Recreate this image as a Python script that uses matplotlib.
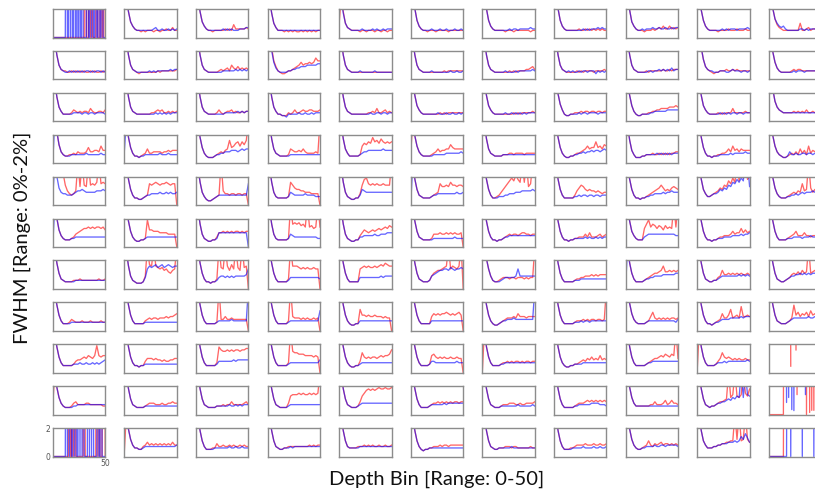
import numpy as np
import matplotlib
matplotlib.use("Agg")
import matplotlib.pyplot as plt

# depth bins sampled every 2 bins (values in tenths of a percent; 30+ = off the top of the 0-2 range)
DEPTH = list(range(0, 51, 2))
FULL_DEPTH = list(range(0, 51))

RED_0 = [None,
 [40,27,18,11,8,6, 5,5,4,5,4, 5,5,5,4,5, 5,4,5,5,6, 5,5,7,5,5],
 [40,27,18,11,8,6, 5,5,4,5,5, 5,5,5,6,5, 6,5,9,6,6, 6,6,6,7,6],
 [40,26,17,10,7,5, 5,5,4,5,4, 5,4,5,4,4, 5,4,5,4,5, 4,5,4,5,5],
 [9,30,18,10,7,6, 5,5,5,5,4, 5,5,4,5,5, 5,4,5,5,4, 5,5,4,5,5],
 [40,28,20,12,8,6, 5,5,4,5,5, 5,4,5,5,5, 5,5,4,5,5, 5,5,5,5,5],
 [40,28,20,12,8,6, 5,5,5,5,5, 4,5,5,5,4, 5,5,5,5,5, 5,5,4,5,5],
 [40,28,20,12,8,6, 5,5,5,5,5, 5,6,5,5,6, 5,6,5,6,5, 6,5,6,5,5],
 [40,28,19,11,8,6, 5,5,5,4,5, 5,5,6,5,6, 7,6,8,6,6, 8,6,7,6,7],
 [40,28,19,12,8,6, 5,5,5,5,4, 5,5,5,5,6, 5,5,5,6,5, 5,5,6,5,5],
 [40,29,20,13,9,7, 6,5,5,5,5, 5,5,5,5,10, 5,5,6,7,5, 6,6,6,6,6]]
BLUE_0 = [None,
 [40,27,18,11,8,6, 5,5,5,5,5, 5,5,5,6,7, 5,5,6,5,5, 6,5,6,5,6],
 [40,27,18,11,8,6, 5,5,5,5,5, 5,5,6,5,6, 5,6,5,5,5, 6,6,6,7,7],
 [40,26,17,10,7,5, 5,5,5,5,5, 5,5,5,5,5, 5,5,5,5,5, 5,5,5,5,5],
 [40,27,17,10,7,6, 5,5,5,5,5, 6,5,5,5,5, 6,5,6,5,5, 6,5,6,6,6],
 [40,28,20,12,8,6, 5,5,5,5,6, 5,5,5,6,5, 5,6,5,5,5, 6,5,5,6,5],
 [40,28,20,12,8,6, 5,5,5,5,5, 5,5,6,5,6, 6,5,6,6,6, 6,6,7,6,6],
 [40,28,20,12,8,6, 5,5,5,5,5, 5,5,5,6,5, 6,5,6,6,6, 7,6,7,6,6],
 [40,28,19,11,8,6, 5,5,6,5,6, 6,6,7,6,6, 7,6,6,7,6, 6,7,6,7,7],
 [40,28,19,12,8,6, 5,5,5,5,5, 5,6,5,6,5, 6,6,6,5,6, 6,6,6,7,6],
 [40,29,20,13,10,8, 7,8,6,5,5, 5,5,5,5,6, 6,5,6,5,6, 6,6,6,6,6]]

RED_1 = [
 [40,27,17,10,7,6, 6,5,5,6,5, 6,5,6,5,6, 5,5,6,5,6, 5,5,6,5,6],
 [40,27,17,10,7,6, 5,4,5,5,5, 5,5,5,5,5, 6,5,6,6,6, 6,6,6,6,7],
 [40,27,17,10,7,6, 5,5,5,5,5, 6,7,6,7,8, 6,10,8,7,9, 7,8,7,8,7],
 [16,30,22,13,9,6, 5,4,4,5,6, 6,7,8,9,10, 12,10,11,11,12, 11,12,15,13,13],
 [40,27,17,10,7,6, 5,5,5,5,5, 5,5,5,5,5, 5,5,5,5,5, 5,5,5,5,5],
 [40,27,17,10,7,6, 5,5,5,5,5, 5,5,5,5,5, 6,5,6,6,6, 6,6,6,6,6],
 [40,27,17,10,7,6, 5,5,5,5,5, 5,5,6,5,6, 5,6,6,6,6, 7,7,8,9,7],
 [40,27,17,10,7,6, 5,5,5,5,5, 6,5,6,5,6, 6,6,6,5,6, 6,6,6,7,6],
 [40,27,17,10,7,6, 5,5,5,5,6, 5,6,6,6,6, 6,6,7,6,6, 7,6,7,7,7],
 [40,30,22,14,9,7, 6,5,4,5,5, 6,6,6,7,6, 6,7,6,7,6, 6,6,6,6,6],
 [40,28,19,12,8,6, 5,5,5,5,5, 6,7,6,7,7, 6,6,6,6,6, 6,6,6,6,6]]
BLUE_1 = [
 [40,27,17,10,7,6, 5,5,6,5,6, 5,6,5,6,5, 6,6,5,6,5, 6,6,5,6,5],
 [40,27,17,10,7,6, 5,5,5,5,5, 5,6,5,6,5, 6,6,6,6,6, 6,7,6,7,7],
 [40,27,17,10,7,6, 5,5,5,5,5, 5,5,6,6,6, 6,6,6,7,6, 7,6,7,6,7],
 [30,29,20,12,8,6, 5,5,5,5,6, 6,7,7,8,8, 9,9,9,10,10, 10,10,10,11,11],
 [40,27,17,10,7,6, 5,5,5,5,6, 5,5,5,5,5, 5,6,5,5,5, 5,5,5,5,5],
 [40,27,17,10,7,6, 5,5,5,5,6, 5,5,5,5,5, 5,5,5,6,5, 5,6,5,5,6],
 [40,27,17,10,7,6, 5,5,5,5,5, 6,5,5,5,5, 6,5,6,6,6, 6,6,6,7,6],
 [40,27,17,10,7,6, 5,6,5,6,5, 5,6,5,6,6, 5,6,6,6,4, 6,5,6,5,6],
 [40,27,17,10,7,6, 5,5,5,5,5, 6,6,5,6,6, 7,6,7,6,7, 6,8,6,7,7],
 [40,30,22,14,9,7, 6,6,5,5,5, 6,6,6,5,5, 6,7,6,6,6, 5,6,6,5,6],
 [40,28,19,12,8,6, 5,5,5,5,5, 5,6,5,6,6, 6,5,6,6,6, 6,6,6,6,6]]

RED_2 = [
 [40,27,17,10,7,5, 5,5,5,6,8, 7,6,7,6,7, 7,6,9,7,6, 6,7,7,6,8],
 [40,27,17,10,7,6, 5,5,5,5,5, 5,5,6,6,7, 8,7,8,6,6, 7,6,7,6,7],
 [40,27,17,10,7,6, 5,5,5,5,6, 8,6,5,6,7, 7,8,6,7,6, 6,7,6,7,7],
 [40,27,17,10,7,5, 5,4,4,4,6, 5,6,8,6,6, 7,8,7,7,8, 8,7,7,7,8],
 [40,27,17,10,7,6, 5,5,5,5,5, 5,5,5,6,6, 7,6,9,6,6, 7,8,6,7,6],
 [40,27,18,11,8,6, 5,5,5,5,5, 5,5,5,6,5, 6,5,6,6,6, 6,6,6,6,6],
 [40,27,18,11,8,6, 5,5,5,5,5, 5,5,5,5,6, 5,6,5,6,6, 6,6,6,7,6],
 [40,28,19,12,8,5, 4,4,5,5,6, 6,6,7,6,7, 7,6,7,7,6, 7,7,6,7,7],
 [40,27,18,11,7,5, 4,4,5,5,5, 6,6,7,7,8, 8,9,9,9,9, 10,10,10,11,10],
 [40,27,18,11,8,6, 5,5,5,5,6, 5,6,5,6,6, 6,9,6,6,6, 6,6,7,6,6],
 [40,30,22,14,10,8, 7,6,6,6,6, 6,7,6,7,6, 7,6,8,6,6, 7,6,6,7,6]]
BLUE_2 = [
 [40,27,17,10,7,5, 5,5,5,5,6, 6,6,6,5,6, 6,5,6,6,5, 6,6,6,6,5],
 [40,27,17,10,7,6, 5,5,5,5,5, 5,5,5,5,6, 5,6,5,6,5, 6,5,6,6,6],
 [40,27,17,10,7,6, 5,5,5,5,5, 5,5,5,6,6, 6,6,6,6,7, 6,7,6,7,7],
 [40,27,17,10,7,5, 5,4,4,3,5, 5,5,5,5,6, 5,5,6,5,5, 6,5,6,6,6],
 [40,27,17,10,7,6, 5,5,5,5,5, 5,5,5,5,6, 5,5,6,6,5, 6,6,5,6,6],
 [40,27,18,11,8,6, 5,5,5,5,5, 5,5,6,5,5, 5,6,5,5,6, 5,5,6,5,6],
 [40,27,18,11,8,6, 5,5,5,5,5, 6,5,5,6,5, 6,5,6,5,6, 5,6,6,6,6],
 [40,28,19,12,8,5, 4,4,5,5,5, 5,6,5,6,6, 5,6,6,6,6, 5,6,6,6,6],
 [40,27,18,11,7,5, 4,4,5,5,5, 5,6,6,7,7, 7,7,7,7,8, 8,8,8,8,8],
 [40,27,18,11,8,6, 5,5,5,5,5, 6,5,6,5,6, 5,6,6,5,6, 6,5,6,6,6],
 [40,30,22,14,10,8, 7,6,6,6,6, 6,6,6,6,6, 6,6,6,6,6, 6,6,6,6,6]]

RED_3 = [
 [30,30,22,13,8,6, 5,5,6,6,7, 6,8,7,7,7, 8,11,8,8,9, 9,8,12,9,9],
 [40,27,18,11,7,5, 5,4,5,6,7, 10,7,7,8,8, 8,8,7,8,8, 9,8,9,9,9],
 [40,27,18,11,7,5, 4,4,4,5,6, 7,8,7,9,10, 16,11,12,14,15, 12,15,13,16,30],
 [40,27,17,10,7,6, 5,5,5,5,6, 10,9,8,8,9, 8,10,8,7,7, 7,7,8,7,30],
 [40,27,17,10,7,5, 5,5,5,5,6, 12,14,13,15,14, 18,15,16,14,17, 15,14,15,14,15],
 [6,30,19,12,8,6, 5,5,5,5,6, 7,8,10,8,9, 9,10,10,13,11, 10,10,10,10,10],
 [40,27,17,10,7,6, 5,5,5,5,6, 6,6,7,7,6, 7,7,7,7,6, 7,7,7,7,7],
 [40,27,18,11,7,5, 4,4,5,5,6, 7,7,8,9,10, 12,10,11,11,15, 11,12,10,13,12],
 [40,26,16,9,6,4, 4,4,5,5,6, 6,6,7,6,6, 7,6,7,6,7, 6,7,7,8,8],
 [40,27,18,11,7,5, 5,4,5,5,6, 6,7,7,8,10, 8,12,9,10,8, 10,9,9,9,9],
 [40,28,19,12,8,6, 5,4,4,5,6, 7,6,8,6,10, 7,9,6,12,7, 9,8,10,7,9]]
BLUE_3 = [
 [0,30,22,13,8,6, 5,5,5,6,6, 6,6,6,6,6, 7,6,6,6,6, 6,6,7,6,6],
 [8,30,18,11,7,5, 5,4,5,5,6, 6,6,6,6,6, 6,7,6,6,6, 7,6,6,6,6],
 [40,27,18,11,7,5, 4,4,4,5,6, 6,7,7,8,8, 8,9,9,9,8, 9,10,9,10,10],
 [40,27,17,10,7,6, 5,5,5,5,5, 6,6,6,6,6, 6,6,6,6,6, 6,6,6,6,6],
 [40,27,17,10,7,5, 5,5,5,5,6, 7,8,8,9,9, 9,9,9,9,9, 10,9,9,9,9],
 [40,28,19,12,8,6, 5,5,5,5,5, 6,6,6,6,6, 6,7,7,7,7, 7,7,7,8,7],
 [40,27,17,10,7,6, 5,5,5,5,6, 6,6,6,6,6, 6,6,6,6,6, 6,6,6,6,6],
 [40,27,18,11,7,5, 4,4,5,5,6, 6,7,7,8,7, 8,8,9,8,9, 9,8,9,10,9],
 [40,26,16,9,6,4, 4,4,5,5,6, 6,6,6,6,7, 6,7,6,7,6, 7,6,7,7,7],
 [40,27,18,11,7,5, 5,4,5,5,5, 6,6,6,6,6, 7,6,7,7,7, 7,7,8,7,7],
 [40,28,19,12,8,6, 5,4,4,5,8, 6,6,7,6,6, 7,7,6,7,7, 6,7,7,6,7]]

RED_4 = [
 [40,30,30,30,30,22, 14,10,8,7,8, 10,30,13,30,14, 13,30,14,15,14, 16,30,15,16,15],
 [40,27,18,11,7,5, 5,4,4,5,6, 7,15,14,15,16, 15,14,15,15,16, 15,14,15,15,0],
 [40,26,16,9,6,4, 3,3,4,5,6, 7,30,10,8,8, 7,8,8,7,8, 8,7,8,8,0],
 [40,26,16,9,6,5, 5,5,5,5,6, 16,14,12,11,11, 10,10,9,9,9, 8,8,8,8,0],
 [40,26,16,9,6,5, 4,4,5,5,8, 14,18,19,15,14, 15,14,15,14,14, 15,14,14,14,30],
 [40,27,18,11,7,6, 5,5,5,5,6, 7,8,9,15,13, 13,14,13,16,14, 14,13,14,14,13],
 [40,27,18,11,7,5, 5,6,7,9,11, 13,15,17,19,17, 21,18,16,30,16, 30,13,15,30,30],
 [40,27,18,11,7,5, 5,5,5,5,7, 10,12,14,13,11, 10,11,10,10,9, 10,9,8,9,9],
 [40,27,18,11,7,5, 5,4,5,5,6, 7,8,9,10,11, 12,14,12,10,11, 10,12,13,12,11],
 [40,27,18,11,8,6, 6,7,8,9,10, 12,11,14,13,17, 15,19,16,30,17, 30,19,30,18,20],
 [40,28,19,12,8,6, 5,5,5,6,7, 8,9,8,10,9, 15,10,11,30,12, 9,11,10,12,11]]
BLUE_4 = [
 [5,30,20,12,9,8, 8,7,7,7,8, 9,10,10,11,10, 9,9,9,9,9, 10,10,10,11,10],
 [40,27,18,11,7,5, 5,4,4,5,6, 7,7,8,8,8, 8,9,8,8,9, 8,9,8,8,9],
 [40,26,16,9,6,4, 3,3,4,5,6, 7,7,7,7,7, 7,7,7,7,7, 7,7,7,7,15],
 [40,26,16,9,6,5, 5,5,5,5,6, 9,8,7,7,7, 7,7,8,7,7, 7,7,6,6,6],
 [40,26,16,9,6,5, 4,4,5,5,7, 11,10,9,9,9, 9,9,9,9,9, 9,9,9,9,9],
 [0,30,18,11,7,6, 5,5,5,5,6, 7,7,8,8,8, 8,8,8,8,8, 8,9,8,8,9],
 [40,27,18,11,7,5, 5,5,6,6,6, 7,7,8,8,8, 9,9,9,10,10, 10,10,10,11,10],
 [40,27,18,11,7,5, 5,5,5,5,6, 6,7,6,7,7, 6,7,7,6,7, 7,6,7,7,7],
 [40,27,18,11,7,5, 5,4,5,5,6, 6,7,7,8,8, 8,8,9,8,9, 9,10,9,9,9],
 [40,27,18,11,8,6, 6,7,8,8,9, 11,10,12,11,14, 13,16,15,18,16, 19,17,30,30,13],
 [40,28,19,12,8,6, 5,5,5,6,6, 7,7,8,7,8, 9,8,9,9,9, 10,9,10,9,10]]

RED_5 = [
 [40,30,20,12,8,6, 5,5,5,6,7, 9,10,11,12,13, 13,14,13,14,13, 14,14,13,14,12],
 [40,27,18,11,7,5, 4,4,5,5,6, 19,12,12,11,11, 11,10,10,10,10, 9,9,9,9,0],
 [40,26,16,9,6,5, 4,4,5,5,7, 10,10,11,10,11, 10,11,10,11,11, 10,11,10,11,11],
 [40,26,16,9,6,5, 5,5,5,5,6, 30,16,17,16,17, 15,16,14,30,14, 15,13,14,30,14],
 [40,26,16,9,6,5, 4,4,5,5,8, 10,12,11,10,11, 12,11,12,13,12, 13,14,13,15,14],
 [40,27,18,11,7,6, 5,5,5,5,6, 9,9,9,10,9, 9,10,9,10,9, 10,9,9,10,0],
 [40,27,18,11,7,5, 5,4,5,5,6, 7,8,9,8,9, 9,8,9,10,10, 9,9,8,9,9],
 [40,27,18,11,7,5, 5,4,5,5,6, 6,7,7,7,9, 7,10,7,7,7, 8,9,7,8,9],
 [40,27,18,11,8,6, 5,5,5,13,16, 19,14,16,15,13, 15,14,12,15,13, 14,13,30,14,30],
 [40,27,18,11,7,5, 5,4,5,5,6, 7,7,8,8,8, 9,11,9,10,10, 13,10,12,10,11],
 [40,27,18,11,7,5, 5,5,5,6,7, 8,9,11,8,8, 8,10,8,8,7, 8,8,8,8,8]]
BLUE_5 = [
 [0,30,20,12,8,6, 5,5,5,6,6, 7,7,7,7,7, 7,7,7,7,7, 7,7,7,7,7],
 [40,27,18,11,7,5, 4,4,5,5,6, 7,7,7,7,7, 7,7,7,7,7, 7,7,7,7,7],
 [40,26,16,9,6,5, 4,4,5,5,6, 10,10,10,10,10, 10,10,10,10,10, 10,10,10,10,0],
 [40,26,16,9,6,5, 5,5,5,5,6, 9,8,7,7,7, 7,7,7,7,7, 7,7,7,6,6],
 [40,26,16,9,6,5, 4,4,5,5,7, 7,8,8,8,8, 8,9,8,8,9, 9,9,10,10,10],
 [40,27,18,11,7,6, 5,5,5,5,5, 6,6,6,6,6, 6,6,6,6,6, 7,6,6,6,6],
 [40,27,18,11,7,5, 5,4,5,5,6, 7,7,8,8,8, 8,8,8,8,8, 8,8,8,8,8],
 [40,27,18,11,7,5, 5,4,5,5,6, 6,6,6,6,7, 6,7,6,6,7, 6,7,6,7,7],
 [40,27,18,11,8,6, 5,5,5,7,8, 9,9,9,9,9, 9,9,9,9,9, 9,9,9,8,8],
 [40,27,18,11,7,5, 5,4,5,5,6, 6,6,7,7,7, 7,8,8,8,8, 9,8,9,9,10],
 [40,27,18,11,7,5, 5,5,5,6,6, 6,7,7,7,7, 6,7,7,7,8, 7,7,7,7,7]]

RED_6 = [
 [40,27,18,11,7,6, 5,5,5,5,6, 6,6,7,6,6, 6,6,6,6,6, 6,7,6,6,7],
 [40,26,16,9,6,5, 4,4,4,5,9, 30,17,16,30,16, 15,14,15,13,14, 12,11,13,14,30],
 [40,27,18,11,7,5, 5,4,5,5,7, 30,15,14,30,16, 13,17,14,30,15, 13,30,15,16,0],
 [40,27,18,11,7,5, 5,5,5,5,7, 30,16,16,16,15, 14,15,14,15,14, 14,15,14,14,0],
 [40,27,18,11,7,5, 5,5,5,5,14, 15,16,15,16,15, 15,16,15,16,17, 16,18,17,16,16],
 [40,27,18,11,7,6, 5,5,5,6,9, 11,12,13,13,14, 15,16,30,14,16, 15,14,16,30,0],
 [40,29,21,14,9,6, 5,5,6,7,8, 8,8,7,8,8, 7,8,8,8,7, 8,7,8,8,30],
 [40,27,18,11,7,5, 5,5,5,5,6, 7,7,8,8,9, 9,9,10,9,10, 9,10,10,10,10],
 [40,27,18,11,7,5, 5,5,5,6,7, 8,9,10,11,11, 12,13,16,12,12, 13,12,13,12,13],
 [40,27,18,11,7,6, 5,5,6,6,8, 9,13,10,10,11, 10,11,10,11,10, 11,10,10,11,10],
 [40,27,18,11,7,6, 5,5,6,7,8, 10,11,10,12,10, 13,11,12,30,11, 12,13,11,12,11]]
BLUE_6 = [
 [18,30,18,11,7,6, 5,5,5,5,5, 6,6,6,6,6, 6,6,6,6,6, 6,6,6,6,6],
 [40,26,16,9,6,5, 4,4,4,5,8, 14,16,15,16,17, 15,16,17,15,16, 17,16,15,16,16],
 [40,27,18,11,7,5, 5,4,5,5,6, 8,9,9,8,9, 8,9,8,9,9, 9,9,9,10,14],
 [40,27,18,11,7,5, 5,5,5,5,6, 8,8,8,8,8, 8,8,8,8,8, 8,8,8,8,7],
 [40,27,18,11,7,5, 5,5,5,5,8, 8,8,8,8,8, 8,8,8,8,9, 8,9,9,9,9],
 [40,27,18,11,7,6, 5,5,5,6,9, 10,11,12,13,13, 14,14,13,15,14, 13,14,14,15,14],
 [40,29,21,14,9,6, 5,5,5,6,7, 8,8,8,8,8, 9,14,9,9,9, 9,9,9,9,9],
 [40,27,18,11,7,5, 5,5,5,5,6, 6,6,7,7,7, 7,7,7,7,7, 7,7,7,7,7],
 [0,30,18,11,7,5, 5,5,5,6,7, 7,8,8,9,9, 9,9,10,10,10, 10,10,10,11,11],
 [40,27,18,11,7,6, 5,5,6,6,7, 8,9,9,9,9, 9,9,9,9,10, 9,10,9,10,9],
 [40,27,18,11,7,6, 5,5,6,7,8, 9,9,10,10,11, 10,11,10,11,10, 11,11,10,11,10]]

RED_7 = [
 [40,27,18,11,7,5, 5,5,6,8,7, 6,6,6,7,6, 6,6,7,6,6, 6,6,7,6,6],
 [40,27,18,11,7,5, 5,5,5,5,7, 8,9,8,9,9, 8,9,9,9,10, 9,10,10,11,12],
 [40,27,18,11,7,5, 5,5,5,5,6, 30,8,8,10,8, 8,9,8,8,8, 8,8,8,8,0],
 [40,27,18,11,7,5, 5,5,5,5,7, 30,10,9,9,9, 8,9,8,9,8, 8,9,8,9,0],
 [40,27,18,11,7,5, 4,4,5,5,15, 11,11,10,11,10, 10,11,10,10,10, 9,10,9,9,0],
 [40,27,18,11,7,5, 5,5,5,5,10, 12,11,12,11,12, 12,13,12,11,12, 11,12,13,11,0],
 [40,27,18,11,7,5, 4,4,5,6,7, 8,9,9,9,10, 9,12,10,10,10, 9,10,10,10,10],
 [40,27,18,11,7,5, 5,5,5,5,6, 7,7,7,8,7, 8,7,8,8,7, 8,8,7,8,30],
 [16,30,19,12,8,6, 5,5,5,5,6, 7,10,13,9,8, 9,8,9,8,9, 8,9,9,8,9],
 [40,27,18,11,7,5, 5,4,5,6,7, 8,12,9,9,11, 15,9,10,11,9, 17,10,10,11,10],
 [40,27,18,11,7,6, 5,5,5,6,7, 9,18,11,13,10, 12,11,13,10,14, 11,12,10,13,11]]
BLUE_7 = [
 [40,27,18,11,7,5, 5,5,5,6,6, 6,6,6,6,6, 6,6,6,6,6, 6,6,6,6,6],
 [40,27,18,11,7,5, 5,5,5,5,6, 6,6,6,6,6, 6,6,6,6,6, 6,6,6,6,6],
 [40,27,18,11,7,5, 5,5,5,5,6, 7,7,7,7,7, 7,8,7,7,7, 7,7,7,7,30],
 [40,27,18,11,7,5, 5,5,5,5,6, 7,7,7,7,7, 7,7,7,7,7, 7,7,7,7,14],
 [40,27,18,11,7,5, 4,4,5,5,7, 7,7,7,7,7, 7,7,7,7,7, 7,7,7,7,7],
 [40,27,18,11,7,5, 5,5,5,5,7, 7,7,7,7,7, 7,7,7,7,7, 7,7,7,7,7],
 [40,27,18,11,7,5, 4,4,5,6,7, 7,8,8,8,9, 8,8,8,8,8, 8,8,8,8,30],
 [40,27,18,11,7,5, 5,5,5,5,6, 6,6,7,6,7, 7,6,7,7,7, 7,7,7,7,7],
 [40,28,19,12,8,6, 5,5,5,5,6, 7,7,7,7,7, 7,7,7,7,7, 7,7,7,6,8],
 [40,27,18,11,7,5, 5,4,5,6,6, 7,8,8,8,8, 9,9,9,9,9, 10,9,10,10,10],
 [40,27,18,11,7,6, 5,5,5,6,7, 8,9,9,9,9, 9,9,9,10,9, 9,10,9,9,9]]

RED_8 = [
 [40,27,18,11,7,5, 5,5,5,5,6, 8,9,9,10,11, 10,12,11,10,12, 19,12,11,12,12],
 [40,27,18,11,7,5, 5,4,5,5,8, 10,10,10,9,10, 9,9,8,9,8, 8,9,9,10,10],
 [40,27,18,11,7,5, 5,5,5,5,7, 18,16,15,15,16, 15,16,15,16,16, 15,16,16,17,17],
 [40,27,18,11,7,5, 5,5,5,5,7, 30,15,14,14,13, 13,13,12,12,12, 12,11,12,11,0],
 [40,27,18,11,7,5, 4,4,5,5,8, 14,11,10,11,10, 11,11,10,11,12, 11,12,12,13,16],
 [40,27,18,11,7,5, 5,5,5,6,12, 13,11,10,11,10, 11,10,10,11,10, 10,11,10,10,0],
 [0,30,18,11,7,5, 5,5,5,6,7, 7,8,7,8,7, 8,8,7,8,7, 8,8,7,8,8],
 [40,27,18,11,7,5, 4,4,5,5,6, 6,7,8,9,8, 10,9,11,9,10, 9,12,9,10,9],
 [40,27,18,11,7,5, 5,5,5,5,6, 7,8,9,10,10, 11,12,11,13,12, 11,13,12,30,10],
 [0,30,18,11,7,5, 5,5,5,6,8, 10,14,11,10,11, 10,9,10,9,10, 9,9,10,9,9],
 None]
BLUE_8 = [
 [40,27,18,11,7,5, 5,5,5,5,6, 6,6,7,6,6, 7,6,6,7,6, 7,6,7,8,9],
 [40,27,18,11,7,5, 5,4,5,5,6, 6,6,6,6,6, 6,6,6,6,6, 6,6,6,6,6],
 [40,27,18,11,7,5, 5,5,5,5,6, 8,8,8,8,8, 8,8,9,8,9, 9,9,9,9,9],
 [40,27,18,11,7,5, 5,5,5,5,6, 7,7,7,7,7, 7,7,7,7,7, 7,7,7,7,9],
 [40,27,18,11,7,5, 4,4,5,5,6, 7,7,7,7,7, 7,7,7,7,7, 7,7,7,7,7],
 [40,27,18,11,7,5, 5,5,5,6,8, 8,7,7,7,7, 7,7,7,7,7, 7,8,7,7,7],
 [40,27,18,11,7,5, 5,5,5,6,6, 7,7,7,7,7, 7,7,7,7,7, 7,7,7,7,7],
 [40,27,18,11,7,5, 4,4,5,5,6, 6,6,6,7,7, 7,7,7,7,7, 7,7,7,7,7],
 [40,27,18,11,7,5, 5,5,5,5,6, 7,7,8,8,8, 8,8,8,8,8, 8,8,8,8,8],
 [40,27,18,11,7,5, 5,5,5,6,7, 7,7,8,7,8, 8,8,8,8,8, 8,8,8,9,8],
 None]

RED_9 = [
 [6,30,19,12,8,6, 5,5,5,6,8, 9,7,7,7,7, 8,8,7,7,7, 7,7,7,6,6],
 [40,27,18,11,7,6, 5,5,5,5,6, 7,8,8,8,7, 7,7,8,7,7, 8,8,9,8,8],
 [40,27,18,11,7,6, 5,5,5,5,6, 6,6,7,6,7, 7,9,7,7,7, 7,7,8,9,7],
 [40,27,18,11,7,6, 5,5,5,5,8, 13,14,14,14,15, 14,15,14,14,15, 14,15,14,15,30],
 [40,27,18,11,7,6, 5,5,5,6,9, 13,15,17,18,17, 18,17,18,19,18, 18,19,18,18,19],
 [40,27,18,11,7,5, 5,5,5,6,7, 8,8,9,8,9, 8,9,8,9,8, 9,9,8,9,9],
 [40,27,18,11,7,6, 5,5,5,6,7, 7,7,8,8,8, 7,7,8,7,7, 8,8,8,8,9],
 [40,27,18,11,7,5, 5,5,5,5,6, 7,8,8,8,9, 10,9,10,9,10, 9,10,9,10,9],
 [14,30,19,12,8,6, 6,6,6,6,6, 6,7,7,9,7, 7,7,8,10,7, 8,10,8,8,7],
 [40,27,18,11,7,6, 5,6,6,7,8, 9,9,10,11,30, 12,14,30,13,12, 14,30,15,13,18],
 None]
BLUE_9 = [
 [40,28,19,12,8,6, 5,5,5,5,6, 6,7,7,7,7, 7,7,7,7,7, 7,7,7,7,7],
 [40,27,18,11,7,6, 5,5,5,5,6, 6,6,6,6,6, 6,6,6,6,6, 6,6,6,6,6],
 [40,27,18,11,7,6, 5,5,5,5,6, 6,6,6,6,6, 7,6,6,7,6, 7,6,7,7,7],
 [40,27,18,11,7,6, 5,5,5,5,6, 7,7,7,7,7, 7,7,7,7,7, 7,7,7,7,7],
 [40,27,18,11,7,6, 5,5,5,6,7, 8,8,8,8,8, 8,8,8,8,8, 8,8,8,8,8],
 [40,27,18,11,7,5, 5,5,5,6,7, 7,7,7,7,7, 8,7,8,8,8, 8,8,8,8,8],
 [40,27,18,11,7,6, 5,5,5,6,6, 6,6,6,6,6, 6,7,6,6,6, 6,6,6,7,6],
 [40,27,18,11,7,5, 5,5,5,5,6, 6,7,7,7,7, 7,7,8,8,8, 8,7,7,7,6],
 [40,28,19,12,8,6, 6,6,6,6,6, 6,6,6,6,6, 6,6,6,6,6, 6,6,6,6,6],
 [40,27,18,11,7,6, 5,6,6,7,8, 8,9,9,10,11, 10,12,11,13,12, 30,12,30,14,13],
 None]

RED_10 = [None,
 [3,30,19,12,8,6, 6,5,5,7,8, 10,8,9,8,9, 8,9,8,9,8, 9,8,10,8,8],
 [40,27,18,11,7,5, 5,5,6,6,9, 7,7,8,7,7, 8,7,8,7,7, 8,7,8,7,7],
 [40,27,18,11,7,6, 5,5,6,6,7, 7,7,7,7,7, 7,7,7,7,8, 7,8,7,8,8],
 [40,27,18,11,7,6, 6,6,6,7,7, 7,8,7,8,7, 8,7,7,8,7, 7,8,7,7,8],
 [40,27,18,11,7,5, 4,5,5,6,6, 7,7,7,8,7, 8,8,7,8,8, 8,8,8,8,8],
 [40,27,18,11,7,6, 5,5,6,6,6, 7,7,7,6,7, 7,6,6,6,6, 6,6,7,6,6],
 [40,27,18,11,7,5, 5,5,6,6,7, 8,8,8,8,9, 8,8,8,9,8, 8,9,8,8,9],
 [40,28,19,12,8,6, 5,5,6,7,8, 11,8,7,9,8, 9,10,8,9,9, 8,9,8,9,8],
 [40,27,18,11,8,6, 6,6,7,7,8, 8,9,9,10,10, 11,11,30,12,30, 11,12,30,12,10],
 None]
BLUE_10 = [None,
 [40,28,19,12,8,6, 6,5,5,6,7, 7,7,7,7,7, 7,7,7,7,7, 7,7,7,7,8],
 [40,27,18,11,7,5, 5,5,5,6,6, 6,6,6,6,6, 7,6,6,7,6, 6,7,6,6,6],
 [40,27,18,11,7,6, 5,5,6,6,6, 7,6,7,7,7, 7,7,7,7,7, 7,7,7,7,7],
 [40,27,18,11,7,6, 6,6,6,6,7, 7,7,7,7,7, 7,7,7,7,7, 7,7,7,7,7],
 [40,27,18,11,7,5, 4,5,5,6,6, 6,6,6,6,6, 6,6,6,6,6, 6,6,6,6,6],
 [40,27,18,11,7,6, 5,5,6,6,6, 6,6,6,7,6, 6,6,6,6,6, 6,6,6,6,6],
 [40,27,18,11,7,5, 5,5,5,6,6, 6,6,6,7,6, 6,6,6,7,6, 6,7,6,6,7],
 [40,28,19,12,8,6, 5,5,6,6,7, 7,7,7,8,7, 7,8,8,7,8, 8,8,8,8,7],
 [40,27,18,11,8,6, 6,6,7,7,8, 8,9,9,9,10, 10,10,11,10,11, 14,12,16,13,10],
 None]

# cells whose traces are mostly 0 with single-bin jumps far off the top (depth bins of the jumps)
C0_0_BLUE_SPIKES = [13, 16, 18, 21, 23, 26, 28, 33, 36, 38, 41, 44, 47]
C0_0_RED_SPIKES = [31, 35, 37, 42, 46, 49]
C10_0_BLUE_SPIKES = [13, 15, 17, 20, 22, 25, 27, 29, 34, 36, 38, 43, 46]
C10_0_RED_SPIKES = [16, 19, 21, 30, 42, 44, 48, 49]
# cells whose traces sit far off the top, with single-bin dips
C9_10_RED_START, C9_10_RED_DIP_X, C9_10_RED_DIP_Y = 15, [27, 36, 39, 41, 43], [1.4, 0.0, 0.15, 0.3, 0.3]
C9_10_BLUE_START, C9_10_BLUE_DIP_X, C9_10_BLUE_DIP_Y = 16, [17, 19, 22, 24, 35], [0.85, 1.2, 0.35, 0.28, 1.4]
C10_10_RED_START, C10_10_RED_DIP_X, C10_10_RED_DIP_Y = 15, [], []
C10_10_BLUE_START, C10_10_BLUE_DIP_X, C10_10_BLUE_DIP_Y = 18, [21, 32, 43], [0.0, 0.0, 0.0]
# lone red fragments in the cell at row 8, column 10
C8_10_RED_X = [20, 21, None, 25, 26]
C8_10_RED_Y = [30.0, 0.46, None, 30.0, 1.6]
FAR_OFF = 30.0

RED = [RED_0, RED_1, RED_2, RED_3, RED_4, RED_5, RED_6, RED_7, RED_8, RED_9, RED_10]
BLUE = [BLUE_0, BLUE_1, BLUE_2, BLUE_3, BLUE_4, BLUE_5, BLUE_6, BLUE_7, BLUE_8, BLUE_9, BLUE_10]

RED_C = "#ff0000"
BLUE_C = "#0000ff"
LW = 0.95
ALPHA = 0.6

W, H = 815, 493
fig = plt.figure(figsize=(W / 100, H / 100), dpi=100)

def spikes(pos):
    y = np.zeros(len(FULL_DEPTH))
    y[pos] = FAR_OFF
    return y

def dips(start, dx, dy):
    y = np.full(len(FULL_DEPTH), FAR_OFF)
    y[:start] = 0.0
    for x, v in zip(dx, dy):
        y[x] = v
    return y

def dips_nan(start, dx, dy):
    y = dips(start, dx, dy)
    y[:start] = np.nan
    return y

def series(vals):
    v = np.array(vals, dtype=float) / 10.0
    n = min(len(v), len(DEPTH))
    return DEPTH[:n], v[:n]

for r in range(11):
    for c in range(11):
        left = 52.7 + 71.6 * c
        top = 9.0 + 41.9 * r
        ax = fig.add_axes([left / W, 1 - (top + 28.5) / H, 52.5 / W, 28.5 / H])
        ax.set_xlim(0, 50)
        ax.set_ylim(0, 2)
        for s in ax.spines.values():
            s.set_color("#8c8c8c")
            s.set_linewidth(1.0)
        kw = dict(lw=LW, alpha=ALPHA)
        if (r, c) == (0, 0):
            ax.plot(FULL_DEPTH, spikes(C0_0_RED_SPIKES), color=RED_C, **kw)
            ax.plot(FULL_DEPTH, spikes(C0_0_BLUE_SPIKES), color=BLUE_C, **kw)
        elif (r, c) == (10, 0):
            ax.plot(FULL_DEPTH, spikes(C10_0_RED_SPIKES), color=RED_C, **kw)
            ax.plot(FULL_DEPTH, spikes(C10_0_BLUE_SPIKES), color=BLUE_C, **kw)
        elif (r, c) == (9, 10):
            ax.plot(FULL_DEPTH, dips(C9_10_RED_START, C9_10_RED_DIP_X, C9_10_RED_DIP_Y), color=RED_C, **kw)
            ax.plot(FULL_DEPTH, dips_nan(C9_10_BLUE_START, C9_10_BLUE_DIP_X, C9_10_BLUE_DIP_Y), color=BLUE_C, **kw)
        elif (r, c) == (10, 10):
            ax.plot(FULL_DEPTH, dips(C10_10_RED_START, C10_10_RED_DIP_X, C10_10_RED_DIP_Y), color=RED_C, **kw)
            ax.plot(FULL_DEPTH, dips(C10_10_BLUE_START, C10_10_BLUE_DIP_X, C10_10_BLUE_DIP_Y), color=BLUE_C, **kw)
        elif (r, c) == (8, 10):
            xs = [np.nan if v is None else v for v in C8_10_RED_X]
            ys = [np.nan if v is None else v for v in C8_10_RED_Y]
            ax.plot(xs, ys, color=RED_C, **kw)
        else:
            rv, bv = RED[r][c], BLUE[r][c]
            if rv is not None:
                ax.plot(*series(rv), color=RED_C, **kw)
            if bv is not None:
                ax.plot(*series(bv), color=BLUE_C, **kw)
        if (r, c) == (10, 0):
            ax.set_xticks([50])
            ax.set_xticklabels(["50"])
            ax.set_yticks([0, 2])
            ax.set_yticklabels(["0", "2"])
            ax.tick_params(length=0, labelsize=5.5, colors="#555555", pad=2)
        else:
            ax.set_xticks([])
            ax.set_yticks([])

fig.text(437 / W, 1 - 479 / H, "Depth Bin [Range: 0-50]", ha="center", va="center",
         fontsize=14.5, family="Lato", color="#111111")
fig.text(22 / W, 1 - 238 / H, "FWHM [Range: 0%-2%]", ha="center", va="center",
         rotation=90, fontsize=14.5, family="Lato", color="#111111")

fig.savefig("out.png", dpi=100)
